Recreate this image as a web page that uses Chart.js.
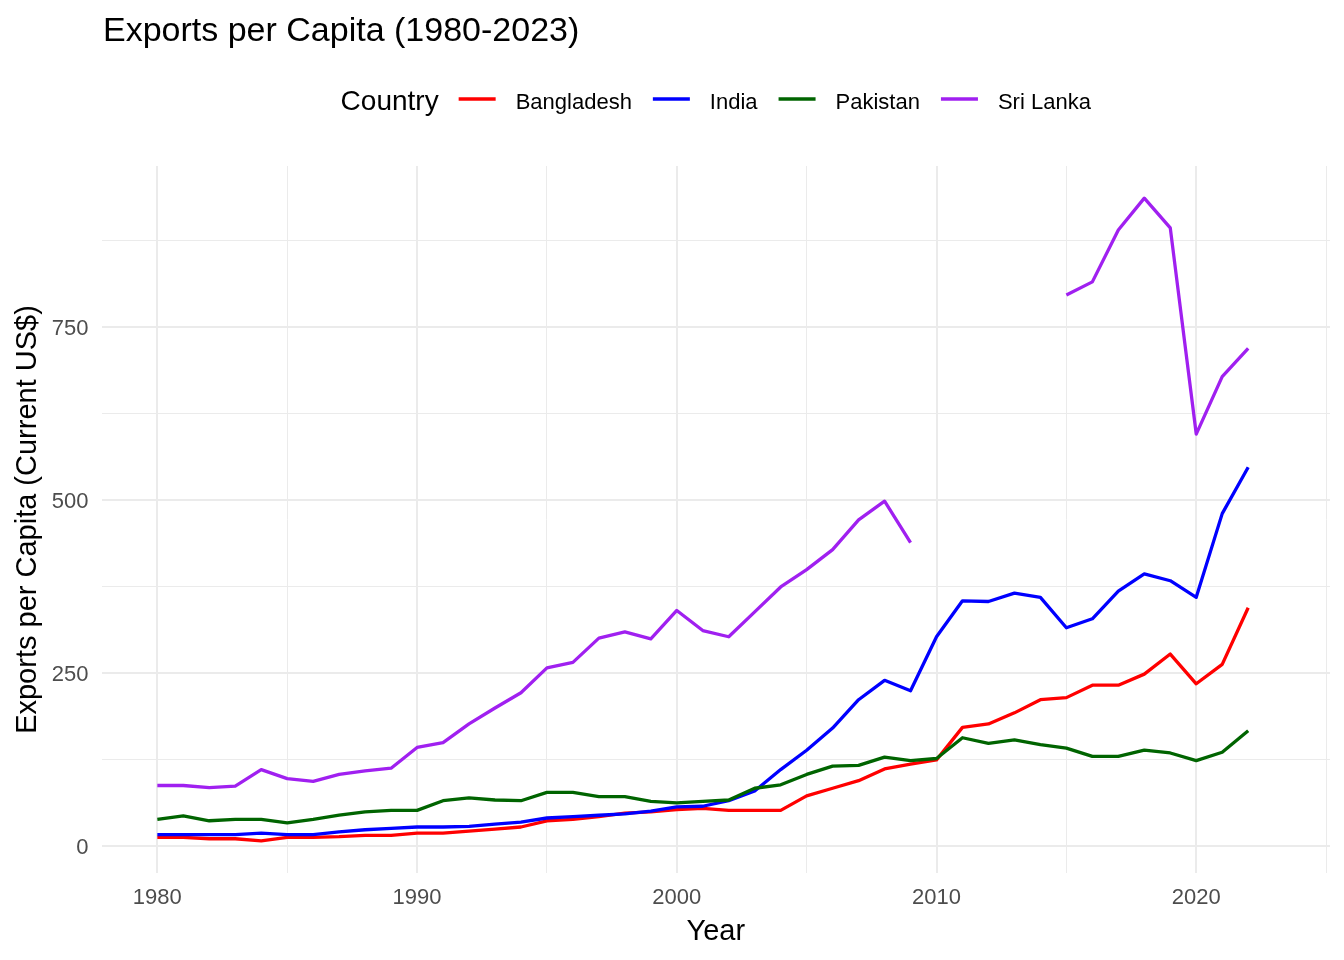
<!DOCTYPE html>
<html>
<head>
<meta charset="utf-8">
<title>Exports per Capita (1980-2023)</title>
<script src="https://cdn.jsdelivr.net/npm/chart.js@4/dist/chart.umd.min.js"></script>
<style>
    html, body { margin: 0; padding: 0; background: #ffffff; }
    #wrap { width: 1344px; height: 960px; }
</style>
</head>
<body>
<div id="wrap"><canvas id="chart" width="1344" height="960"></canvas></div>
<script>
// Données (exportations par habitant, US$ courants)
const years = [
    1980, 1981, 1982, 1983, 1984, 1985, 1986, 1987, 1988, 1989,
    1990, 1991, 1992, 1993, 1994, 1995, 1996, 1997, 1998, 1999,
    2000, 2001, 2002, 2003, 2004, 2005, 2006, 2007, 2008, 2009,
    2010, 2011, 2012, 2013, 2014, 2015, 2016, 2017, 2018, 2019,
    2020, 2021, 2022
];

const bangladesh = [
    12, 12, 10, 10, 7, 12, 12, 13, 15, 15,
    18, 18, 21, 24, 27, 36, 38, 42, 47, 49,
    52, 54, 51, 51, 51, 72, 83, 94, 111, 118,
    124, 171, 176, 192, 211, 214, 232, 232, 248, 277,
    234, 262, 344
];

const india = [
    16, 16, 16, 16, 18, 16, 16, 20, 23, 25,
    27, 27, 28, 31, 34, 40, 42, 44, 46, 50,
    56, 57, 65, 79, 110, 138, 170, 211, 239, 224,
    302, 354, 353, 365, 359, 315, 328, 368, 393, 383,
    359, 480, 547
];

const pakistan = [
    38, 43, 36, 38, 38, 33, 38, 44, 49, 51,
    51, 65, 69, 66, 65, 77, 77, 71, 71, 64,
    62, 64, 66, 83, 88, 103, 115, 116, 128, 123,
    126, 156, 148, 153, 146, 141, 129, 129, 138, 134,
    123, 135, 166
];

const sriLanka = [
    87, 87, 84, 86, 110, 97, 93, 103, 108, 112,
    142, 149, 176, 199, 221, 257, 265, 300, 309, 299,
    340, 311, 302, 338, 374, 399, 428, 471, 498, 438,
    null, null, null, null, null, 796, 815, 890, 936, 893,
    595, 678, 719
];

const countries = ['Bangladesh', 'India', 'Pakistan', 'Sri Lanka'];
const countryColors = ['#FF0000', '#0000FF', '#006400', '#A020F0'];

// Graduations
const xMajorTicks = [1980, 1990, 2000, 2010, 2020];
const xMinorTicks = [1985, 1995, 2005, 2015, 2025];
const yMajorTicks = [0, 250, 500, 750];
const yMinorTicks = [125, 375, 625, 875];

const FONT = '"Liberation Sans", Arial, Helvetica, sans-serif';
const GRID = '#EBEBEB';

function toPoints(values) {
    return years.map((year, i) => ({ x: year, y: values[i] }));
}

const seriesValues = [bangladesh, india, pakistan, sriLanka];

const datasets = countries.map((name, i) => ({
    label: name,
    data: toPoints(seriesValues[i]),
    borderColor: countryColors[i],
    backgroundColor: countryColors[i],
    borderWidth: 3.3,
    pointRadius: 0,
    tension: 0,
    spanGaps: false,
    borderCapStyle: 'butt',
    borderJoinStyle: 'round',
    // ggplot dessine le dernier groupe au-dessus
    order: countries.length - i
}));

function isMajor(list, value) {
    return list.indexOf(value) !== -1;
}

// Titre, légende et titres d'axes dessinés à la manière de ggplot
const textPlugin = {
    id: 'textPlugin',
    afterDraw(chart) {
        const ctx = chart.ctx;
        const area = chart.chartArea;
        const midX = (area.left + area.right) / 2;
        const midY = (area.top + area.bottom) / 2;

        ctx.save();
        ctx.fillStyle = '#000000';
        ctx.textBaseline = 'alphabetic';

        // Titre
        ctx.font = '34px ' + FONT;
        ctx.textAlign = 'left';
        ctx.fillText('Exports per Capita (1980-2023)', 103, 41);

        // Légende
        const keyW = 37, gapTitle = 20, gapKey = 20, gapItem = 21;
        ctx.font = '28px ' + FONT;
        const titleW = ctx.measureText('Country').width;
        ctx.font = '22px ' + FONT;
        const labelW = countries.map(c => ctx.measureText(c).width);
        let total = titleW + gapTitle;
        labelW.forEach((w, i) => {
            total += keyW + gapKey + w + (i < labelW.length - 1 ? gapItem : 0);
        });
        let x = midX - total / 2;

        ctx.font = '28px ' + FONT;
        ctx.fillText('Country', x, 110);
        x += titleW + gapTitle;

        ctx.font = '22px ' + FONT;
        countries.forEach((c, i) => {
            ctx.strokeStyle = countryColors[i];
            ctx.lineWidth = 3.3;
            ctx.lineCap = 'butt';
            ctx.beginPath();
            ctx.moveTo(x, 99);
            ctx.lineTo(x + keyW, 99);
            ctx.stroke();
            x += keyW + gapKey;
            ctx.fillText(c, x, 109);
            x += labelW[i] + gapItem;
        });

        // Titres des axes
        ctx.font = '29px ' + FONT;
        ctx.textAlign = 'center';
        ctx.fillText('Year', midX, 940);

        ctx.translate(36, midY);
        ctx.rotate(-Math.PI / 2);
        ctx.fillText('Exports per Capita (Current US$)', 0, 0);
        ctx.restore();
    }
};

new Chart(document.getElementById('chart').getContext('2d'), {
    type: 'line',
    data: { datasets: datasets },
    plugins: [textPlugin],
    options: {
        responsive: false,
        animation: false,
        devicePixelRatio: 1,
        layout: { padding: { top: 166, right: 14, left: 0, bottom: 0 } },
        plugins: {
            legend: { display: false },
            title: { display: false },
            tooltip: { enabled: false }
        },
        scales: {
            x: {
                type: 'linear',
                min: 1977.85,
                max: 2025.15,
                afterBuildTicks: scale => {
                    scale.ticks = xMajorTicks.concat(xMinorTicks)
                        .sort((a, b) => a - b)
                        .map(v => ({ value: v }));
                },
                afterFit: scale => { scale.height = 87; },
                border: { display: false },
                grid: {
                    drawTicks: false,
                    color: GRID,
                    lineWidth: ctx => (ctx.tick && isMajor(xMajorTicks, ctx.tick.value)) ? 2 : 1
                },
                ticks: {
                    autoSkip: false,
                    maxRotation: 0,
                    padding: 12,
                    color: '#4D4D4D',
                    font: { size: 22, family: FONT },
                    callback: value => isMajor(xMajorTicks, value) ? String(value) : ''
                }
            },
            y: {
                type: 'linear',
                min: -39.5,
                max: 982.5,
                afterBuildTicks: scale => {
                    scale.ticks = yMajorTicks.concat(yMinorTicks)
                        .sort((a, b) => a - b)
                        .map(v => ({ value: v }));
                },
                afterFit: scale => { scale.width = 101.5; },
                border: { display: false },
                grid: {
                    drawTicks: false,
                    color: GRID,
                    lineWidth: ctx => (ctx.tick && isMajor(yMajorTicks, ctx.tick.value)) ? 2 : 1
                },
                ticks: {
                    autoSkip: false,
                    padding: 13,
                    labelOffset: 2,
                    color: '#4D4D4D',
                    font: { size: 22, family: FONT },
                    callback: value => isMajor(yMajorTicks, value) ? String(value) : ''
                }
            }
        }
    }
});
</script>
</body>
</html>
